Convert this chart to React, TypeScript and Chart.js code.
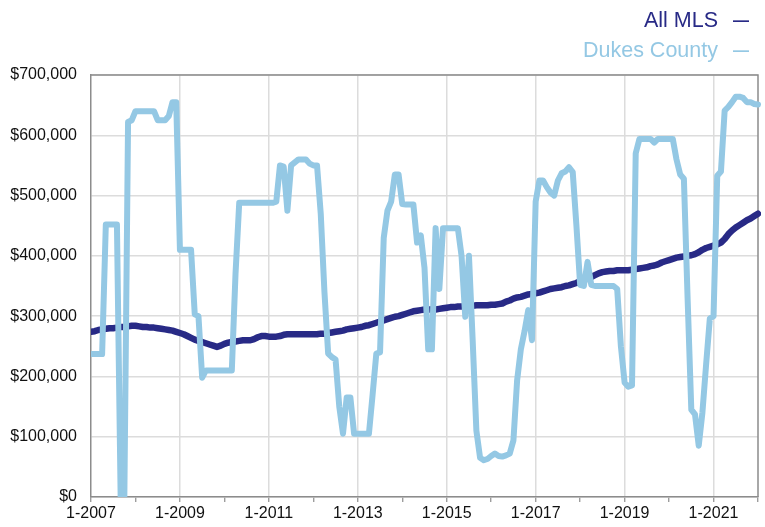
import React, { useEffect, useRef } from "react";
import { Chart, registerables } from "chart.js";

Chart.register(...registerables);

// x tick labels, one every 24 months starting 1-2007
const xTickLabels = ["1-2007", "1-2009", "1-2011", "1-2013", "1-2015", "1-2017", "1-2019", "1-2021"];
const seriesNames = ["All MLS", "Dukes County"];

// Monthly median price, thousands of dollars, Jan 2007 .. Jan 2022
const allMlsK = [
  274, 275, 277, 278, 279, 280, 280, 281, 282, 282, 283, 284,
  284, 283, 282, 282, 281, 281, 280, 279, 278, 277, 276, 274,
  272, 270, 267, 264, 261, 259, 257, 255, 253, 251, 249, 251,
  254, 256, 257, 258, 259, 260, 260, 260, 262, 265, 267, 267,
  266, 266, 266, 267, 269, 270, 270, 270, 270, 270, 270, 270,
  270, 270, 271, 271, 272, 273, 274, 275, 276, 278, 279, 280,
  281, 282, 284, 285, 287, 289, 291, 293, 295, 297, 299, 300,
  302, 304, 306, 308, 309, 310, 311, 311, 311, 311, 312, 313,
  314, 315, 315, 316, 316, 316, 317, 317, 318, 318, 318, 318,
  319, 319, 320, 321, 324, 326, 329, 331, 332, 334, 336, 337,
  338, 339, 341, 343, 345, 346, 347, 348, 350, 351, 353, 355,
  358, 360, 362, 365, 368, 371, 373, 374, 375, 375, 376, 376,
  376, 376, 377, 378, 379, 380, 381, 383, 384, 386, 389, 391,
  393, 395, 397, 398, 399, 400, 401, 403, 406, 410, 413, 415,
  417, 419, 422, 428, 436, 442, 447, 451, 455, 459, 462, 466,
  470,
];

const dukesK = [
  237, 237, 237, 237, 452, 452, 452, 452, 0, 0, 622, 625,
  640, 640, 640, 640, 640, 640, 625, 625, 625, 632, 655, 655,
  410, 410, 410, 410, 303, 300, 198, 210, 210, 210, 210, 210,
  210, 210, 210, 370, 488, 488, 488, 488, 488, 488, 488, 488,
  488, 488, 490, 550, 548, 475, 550, 555, 560, 560, 560, 553,
  550, 550, 470, 340, 238, 232, 228, 150, 105, 165, 165, 105,
  105, 105, 105, 105, 170, 238, 240, 430, 475, 490, 535, 535,
  486, 485, 485, 485, 422, 434, 380, 245, 245, 446, 345, 446,
  446, 446, 446, 446, 400, 299, 400, 260, 110, 65, 61, 63,
  68, 72, 68, 67, 69, 72, 94, 194, 245, 275, 310, 260,
  490, 525, 525, 514, 505, 500, 525, 537, 540, 547, 539, 450,
  352, 350, 390, 352, 350, 350, 350, 350, 350, 350, 345, 250,
  190, 183, 185, 570, 594, 594, 594, 594, 588, 594, 594, 594,
  594, 594, 560, 535, 528, 330, 145, 137, 85, 140, 220, 296,
  300, 533, 540, 641, 647, 655, 664, 664, 662, 655, 655, 652,
  651,
];

const NAVY = "#282a86";
const LIGHT = "#94c8e4";
const AXIS_GRAY = "#8c8c8c";
const GRID_GRAY = "#dcdcdc";
const FONT_FAMILY = '"Liberation Sans", Arial, Helvetica, sans-serif';

const framePlugin = {
  id: "frame",
  beforeDatasetsDraw(chart: any) {
    const { ctx, chartArea } = chart;
    ctx.save();
    ctx.strokeStyle = AXIS_GRAY;
    ctx.lineWidth = 1.5;
    ctx.beginPath();
    ctx.moveTo(chartArea.left, chartArea.top);
    ctx.lineTo(chartArea.right, chartArea.top);
    ctx.lineTo(chartArea.right, chartArea.bottom);
    ctx.stroke();
    ctx.restore();
  },
};

export default function App() {
  const canvasRef = useRef<HTMLCanvasElement | null>(null);

  useEffect(() => {
    const canvas = canvasRef.current;
    if (!canvas) return;
    const chart = new Chart(canvas, {
      type: "line",
      data: {
        datasets: [
          {
            label: seriesNames[0],
            data: allMlsK.map((v, i) => ({ x: i, y: v * 1000 })),
            borderColor: NAVY,
            backgroundColor: NAVY,
            borderWidth: 6.5,
            pointRadius: 0,
            tension: 0,
            order: 2,
            borderJoinStyle: "round",
            borderCapStyle: "round",
            clip: { left: 0, top: 0, right: 3, bottom: 0 },
          } as any,
          {
            label: seriesNames[1],
            data: dukesK.map((v, i) => ({ x: i, y: v * 1000 })),
            borderColor: LIGHT,
            backgroundColor: LIGHT,
            borderWidth: 6,
            pointRadius: 0,
            tension: 0,
            order: 1,
            borderJoinStyle: "round",
            borderCapStyle: "round",
            clip: { left: 0, top: 0, right: 3, bottom: 0 },
          } as any,
        ],
      },
      options: {
        responsive: false,
        animation: false,
        devicePixelRatio: 1,
        layout: { padding: { top: 75, right: 7, left: 0, bottom: 0 } },
        plugins: {
          legend: { display: false },
          tooltip: { enabled: false },
        },
        scales: {
          x: {
            type: "linear",
            min: 0,
            max: 180,
            ticks: {
              stepSize: 12,
              autoSkip: false,
              maxRotation: 0,
              minRotation: 0,
              padding: 2,
              color: "#111",
              font: { family: FONT_FAMILY, size: 16 },
              callback: (v: any) => {
                const n = Number(v);
                return n % 24 === 0 ? xTickLabels[n / 24] ?? "" : "";
              },
            },
            grid: {
              color: (ctx: any) => {
                const v = ctx.tick ? ctx.tick.value : -1;
                return v % 24 === 0 && v > 0 && v < 180 ? GRID_GRAY : "rgba(0,0,0,0)";
              },
              lineWidth: 1.5,
              drawTicks: true,
              tickLength: 5,
              tickColor: AXIS_GRAY,
              tickWidth: 1.2,
            },
            border: { display: true, color: AXIS_GRAY, width: 1.5 },
            afterFit: (s: any) => {
              s.height = 30;
            },
          } as any,
          y: {
            min: 0,
            max: 700000,
            ticks: {
              stepSize: 100000,
              padding: 14,
              color: "#111",
              font: { family: FONT_FAMILY, size: 16 },
              callback: (v: any) => "$" + Number(v).toLocaleString("en-US"),
            },
            grid: {
              color: GRID_GRAY,
              lineWidth: 1.5,
              drawTicks: false,
            },
            border: { display: true, color: AXIS_GRAY, width: 1.5 },
            afterFit: (s: any) => {
              s.width = 91;
            },
          } as any,
        },
      },
      plugins: [framePlugin],
    });
    return () => chart.destroy();
  }, []);

  const legendText: React.CSSProperties = {
    position: "absolute",
    fontFamily: FONT_FAMILY,
    fontSize: "21.5px",
    lineHeight: "21.5px",
    whiteSpace: "nowrap",
    textAlign: "right",
  };
  const dashText: React.CSSProperties = {
    position: "absolute",
    fontFamily: FONT_FAMILY,
    fontSize: "16px",
    fontWeight: "bold",
    lineHeight: "16px",
    left: 733,
    whiteSpace: "nowrap",
  };

  return (
    <div style={{ position: "absolute", left: 0, top: 0, width: 765, height: 527, background: "#fff" }}>
      <canvas ref={canvasRef} width={765} height={527} style={{ position: "absolute", left: 0, top: 0, width: 765, height: 527 }} />
      <div style={{ ...legendText, right: 47, top: 10, color: NAVY }}>{seriesNames[0]}</div>
      <div style={{ ...dashText, top: 13, color: NAVY }}>—</div>
      <div style={{ ...legendText, right: 47, top: 40, color: LIGHT }}>{seriesNames[1]}</div>
      <div style={{ ...dashText, top: 43, color: LIGHT }}>—</div>
    </div>
  );
}
